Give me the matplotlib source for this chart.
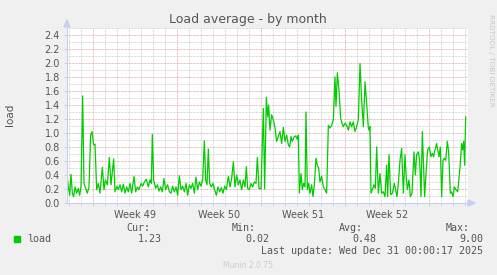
import numpy as np
import matplotlib
matplotlib.use("Agg")
import matplotlib.pyplot as plt
from matplotlib.patches import Polygon, Rectangle

# hours since left edge of the graph (2 h per pixel), load values
hours = [0, 2.7, 5.3, 8, 10.7, 13.3, 16, 19.3, 22.7, 25.3, 28, 31.3, 34, 37.3, 40.7, 44,
         47.3, 50, 53.3, 56, 59.3, 62.7, 66, 70.7, 74, 76.7, 80.7, 84.7, 88, 93.3, 96, 100,
         102.7, 106, 109.3, 112.7, 116, 119.3, 122.7, 126, 129.3, 134, 137.3, 140.7, 144,
         148, 151.3, 154.7, 158.7, 162.7, 166, 168.7, 170.7, 173.3, 177.3, 180.7, 184,
         187.3, 190.7, 194, 197.3, 201.3, 204.7,
         208, 211.3, 214.7, 218, 221.3, 224.7, 228, 231.3, 234.7, 238, 241.3, 244.7, 248,
         251.3, 254.7, 258, 261.3, 264.7, 268, 271.3, 274.7, 277.3, 280, 282.7, 285.3,
         288.7, 292, 295.3, 298.7, 302, 305.3, 308.7, 312, 315.3, 318.7, 322.7, 326, 329.3,
         332.7, 336, 339.3, 342.7, 346, 349.3, 352.7, 356, 358.7, 361.3, 364.7, 368, 371.3,
         374.7, 378, 380.7, 384, 388, 392.7, 395.3, 398.7, 401.3, 403.3,
         406, 409.3, 412.7, 416, 419.3, 422.7, 426, 429.3, 432.7, 436, 439.3, 442.7, 445.3,
         448, 450.7, 454, 457.3, 460.7, 462.7, 464.7, 468, 470.7, 473.3, 476, 478, 480.7,
         483.3, 486, 489.3, 492, 494.7, 498, 500.7, 503.3, 506, 509.3, 512.7, 516, 519.3,
         522.7, 526, 529.3, 532.7, 536, 538, 540.7, 544, 547.3, 550, 552.7, 556, 559.3,
         562.7, 566, 569.3, 572.7, 576, 579.3, 582.7, 586, 589.3, 592.7, 596, 599.3, 602.7,
         604, 606, 608, 610.7, 614, 616.7, 619.3, 622.7, 626, 629.3, 632.7, 636, 639.3,
         641.3, 644, 647.3, 650.7, 654.7, 657.3, 660, 662.7, 666, 669.3, 672.7, 676, 678,
         680.7, 684, 686.7, 690, 694, 696.7, 699.3, 702.7, 705.3, 708, 710.7, 712.7, 715.3,
         718, 721.3, 724.7, 728, 730.7, 733.3, 736, 739.3, 741.3, 744, 746.7, 749.3, 752,
         754.7, 757.3, 760.7, 763.3, 766.7, 769.3, 772, 774.7, 778, 781.3, 784, 786.7,
         789.3, 791.3, 793.3, 795.3, 797.3]
load = [0.40, 0.23, 0.11, 0.41, 0.14, 0.09, 0.23, 0.14, 0.21, 0.11, 0.23, 1.53, 0.28, 0.21,
        0.14, 0.23, 0.97, 1.02, 0.83, 0.84, 0.19, 0.28, 0.14, 0.51, 0.19, 0.33, 0.26, 0.65,
        0.26, 0.63, 0.16, 0.24, 0.19, 0.26, 0.16, 0.27, 0.14, 0.23, 0.16, 0.28, 0.14, 0.38,
        0.16, 0.23, 0.19, 0.28, 0.24, 0.30, 0.34, 0.23, 0.33, 0.28, 0.98, 0.33, 0.21, 0.26,
        0.17, 0.23, 0.16, 0.35, 0.19, 0.26, 0.16,
        0.14, 0.24, 0.16, 0.23, 0.11, 0.39, 0.19, 0.24, 0.16, 0.28, 0.11, 0.26, 0.21, 0.28,
        0.14, 0.37, 0.19, 0.30, 0.24, 0.33, 0.89, 0.33, 0.26, 0.77, 0.28, 0.23, 0.28, 0.19,
        0.11, 0.23, 0.16, 0.22, 0.14, 0.24, 0.19, 0.38, 0.23, 0.35, 0.59, 0.23, 0.40, 0.26,
        0.33, 0.19, 0.33, 0.23, 0.52, 0.21, 0.19, 0.28, 0.23, 0.30, 0.28, 0.65, 0.21, 0.20,
        1.35, 0.20, 1.51, 1.23, 1.40,
        1.04, 1.26, 1.19, 1.07, 0.88, 0.95, 1.02, 0.85, 1.08, 0.88, 0.97, 0.83, 0.80, 0.95,
        0.88, 0.94, 0.96, 0.91, 0.97, 0.14, 0.42, 0.19, 0.28, 0.23, 1.30, 0.19, 0.28, 0.14,
        0.26, 0.09, 0.26, 0.64, 0.54, 0.50, 0.30, 0.38, 0.23, 0.19, 0.14, 1.11, 1.07, 1.11,
        1.19, 1.80, 1.38, 1.86, 1.61, 1.21, 1.14, 1.09, 1.14, 1.11, 1.04, 1.16, 1.09, 1.16,
        1.02, 1.09, 1.19, 1.99, 1.47, 1.09, 1.73, 1.42, 1.07,
        1.04, 1.09, 0.14, 0.19, 0.26, 0.21, 0.80, 0.14, 0.42, 0.14, 0.16, 0.09, 0.54, 0.09,
        0.69, 0.12, 0.14, 0.28, 0.19, 0.09, 0.28, 0.61, 0.78, 0.14, 0.69, 0.42, 0.19, 0.33,
        0.09, 0.14, 0.73, 0.40, 0.69, 0.73, 0.61, 0.09, 1.02, 0.61, 0.09, 0.42, 0.76, 0.80,
        0.66, 0.71, 0.66, 0.76, 0.85, 0.76, 0.66, 0.80, 0.09, 0.61, 0.64, 0.61, 0.88, 0.73,
        0.14, 0.16, 0.09, 0.23, 0.19, 0.16, 0.35, 0.57, 0.85, 0.76, 0.88, 0.54, 1.23]

y_ticks = [0.0, 0.2, 0.4, 0.6, 0.8, 1.0, 1.2, 1.4, 1.6, 1.8, 2.0, 2.2, 2.4]
week_starts = [52, 220, 388, 556, 724]
week_labels = ["Week 49", "Week 50", "Week 51", "Week 52"]
legend_heads = ["Cur:", "Min:", "Avg:", "Max:"]
legend_vals = ["1.23", "0.02", "0.48", "9.00"]

W, H = 497, 275
BG = "#F0F0F0"
FONT = "#555555"
AXIS = "#C8CEF2"
GREEN = "#00CC00"


def fx(x):
    return x / W


def fy(y):
    return 1 - y / H


fig = plt.figure(figsize=(W / 100, H / 100), dpi=100, facecolor=BG)
ax = fig.add_axes([fx(67), fy(203), 401 / W, 175 / H], facecolor="white")
ax.set_xlim(0, 802)
ax.set_ylim(0, 2.5)

dot = (0, (0.72, 0.72))
# grid: grey every day / 0.1, red every week / 0.2
for d in np.arange(4, 802, 24):
    major = any(abs(d - w) < 1 for w in week_starts)
    ax.axvline(d, color="#E2A8A8" if major else "#CFCFCF", lw=0.72, ls=dot, zorder=1)
for v in np.arange(0.1, 2.55, 0.1):
    major = abs(v / 0.2 - round(v / 0.2)) < 0.01
    ax.axhline(v, color="#E2A8A8" if major else "#CFCFCF", lw=0.72, ls=dot, zorder=1)

ax.plot(hours, load, color=GREEN, lw=0.9, zorder=3)

for s in ["top", "right"]:
    ax.spines[s].set_visible(False)
for s in ["left", "bottom"]:
    ax.spines[s].set_color(AXIS)
    ax.spines[s].set_linewidth(0.8)
    ax.spines[s].set_zorder(4)

ax.set_yticks(y_ticks)
ax.set_yticklabels(["%.1f" % v for v in y_ticks])
ax.tick_params(axis="y", length=2, width=0.7, color=AXIS, labelsize=7,
               labelcolor=FONT, pad=3)
ax.set_xticks([w + 84 for w in week_starts[:4]])
ax.set_xticklabels(week_labels)
ax.set_xticks(np.arange(4, 802, 24), minor=True)
ax.tick_params(axis="x", which="major", length=0, labelsize=7, labelcolor=FONT, pad=5)
ax.tick_params(axis="x", which="minor", length=2, width=0.7, color=AXIS)

# axis arrows
fig.add_artist(Polygon([(fx(64), fy(27)), (fx(70), fy(27)), (fx(67), fy(20))],
                       closed=True, color=AXIS, transform=fig.transFigure))
fig.add_artist(Polygon([(fx(468), fy(200)), (fx(468), fy(206)), (fx(475), fy(203))],
                       closed=True, color=AXIS, transform=fig.transFigure))

fig.text(fx(248), fy(19), "Load average - by month", ha="center", va="center",
         fontsize=9, color=FONT)
fig.text(fx(10), fy(115), "load", rotation=90, ha="center", va="center",
         fontsize=7.5, color=FONT)
fig.text(fx(491), fy(14), "RRDTOOL / TOBI OETIKER", rotation=270, ha="center", va="top",
         fontsize=5.2, color="#C8C8C8")

# legend
mono = "DejaVu Sans Mono"
fig.add_artist(Rectangle((fx(14), fy(242)), 6 / W, 6 / H, color=GREEN,
                         transform=fig.transFigure))
fig.text(fx(27), fy(239), "load", family=mono, fontsize=7.2, color=FONT, va="center")
head_right = [150, 256, 363, 470]
val_right = [162, 269, 376, 483]
for h, v, hr, vr in zip(legend_heads, legend_vals, head_right, val_right):
    fig.text(fx(hr), fy(228), h, family=mono, fontsize=7.2, color=FONT,
             ha="right", va="center")
    fig.text(fx(vr), fy(239), v, family=mono, fontsize=7.2, color=FONT,
             ha="right", va="center")
fig.text(fx(483), fy(251), "Last update: Wed Dec 31 00:00:17 2025", family=mono,
         fontsize=7.2, color=FONT, ha="right", va="center")
fig.text(fx(248), fy(265), "Munin 2.0.75", fontsize=5.5, color="#CCCCCC",
         ha="center", va="center")

fig.savefig("out.png", dpi=100, facecolor=BG)
